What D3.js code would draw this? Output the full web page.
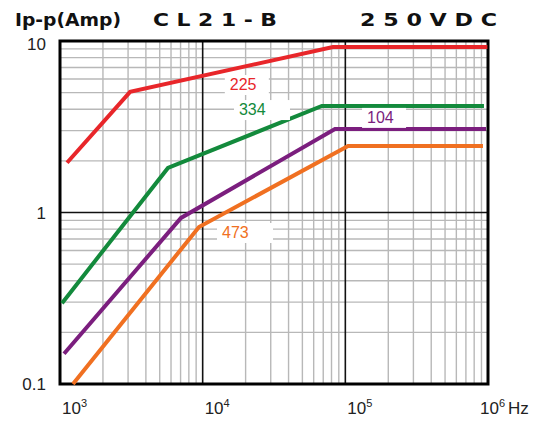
<!DOCTYPE html>
<html>
<head>
<meta charset="utf-8">
<script src="https://cdn.jsdelivr.net/npm/d3@7"></script>
<style>
  body { margin: 0; background: #fff; }
  svg { display: block; font-family: "Liberation Sans", Arial, sans-serif; }
</style>
</head>
<body>
<svg id="chart" width="550" height="421"></svg>
<script>
// curves: [frequency Hz, current A]
var c225 = [[1120, 1.95], [3100, 5.05], [81800, 9.23], [990000, 9.23]];
var c334 = [[1033, 0.296], [5710, 1.82], [68500, 4.18], [937000, 4.18]];
var c104 = [[1067, 0.150], [7050, 0.93], [84600, 3.07], [968000, 3.07]];
var c473 = [[1233, 0.100], [9420, 0.823], [104500, 2.44], [922000, 2.44]];

var seriesNames = ["225", "334", "104", "473"];
var seriesColors = ["#e8262a", "#138a3c", "#7b1e7e", "#f07021"];
// label anchor points in data units
var labelPos = [[15500, 5.18], [17970, 3.70], [142000, 3.33], [13660, 0.71]];

var xTicks = [1e3, 1e4, 1e5, 1e6];
var xExp = ["3", "4", "5", "6"];
var yTicks = [0.1, 1, 10];
var yTickLabels = ["0.1", "1", "10"];

var svg = d3.select("#chart");

var x = d3.scaleLog().domain([1e3, 1e6]).range([60, 488]);
var y = d3.scaleLog().domain([0.1, 10]).range([384, 41]);

// minor grid values
var xMinor = [], yMinor = [];
[1e3, 1e4, 1e5].forEach(function (d) {
  for (var k = 2; k <= 9; k++) xMinor.push(d * k);
});
[0.1, 1].forEach(function (d) {
  for (var k = 2; k <= 9; k++) yMinor.push(d * k);
});

var grid = svg.append("g");
grid.selectAll(".vx").data(xMinor).enter().append("line")
  .attr("x1", function (d) { return x(d) }).attr("x2", function (d) { return x(d) })
  .attr("y1", y(10)).attr("y2", y(0.1))
  .attr("stroke", "#b8b8b8").attr("stroke-width", 1.4);
grid.selectAll(".hy").data(yMinor).enter().append("line")
  .attr("y1", function (d) { return y(d) }).attr("y2", function (d) { return y(d) })
  .attr("x1", x(1e3)).attr("x2", x(1e6))
  .attr("stroke", "#b8b8b8").attr("stroke-width", 1.4);

// major lines
grid.selectAll(".mx").data([1e4, 1e5]).enter().append("line")
  .attr("x1", function (d) { return x(d) }).attr("x2", function (d) { return x(d) })
  .attr("y1", y(10)).attr("y2", y(0.1))
  .attr("stroke", "#111").attr("stroke-width", 1.6);
grid.append("line")
  .attr("x1", x(1e3)).attr("x2", x(1e6)).attr("y1", y(1)).attr("y2", y(1))
  .attr("stroke", "#111").attr("stroke-width", 1.6);

// frame
svg.append("rect")
  .attr("x", x(1e3)).attr("y", y(10))
  .attr("width", x(1e6) - x(1e3)).attr("height", y(0.1) - y(10))
  .attr("fill", "none").attr("stroke", "#000").attr("stroke-width", 3);

// curves
var line = d3.line().x(function (d) { return x(d[0]) }).y(function (d) { return y(d[1]) });
[c225, c334, c104, c473].forEach(function (s, i) {
  svg.append("path").datum(s).attr("d", line)
    .attr("fill", "none").attr("stroke", seriesColors[i])
    .attr("stroke-width", 4).attr("stroke-linejoin", "miter");
});

// labels with white boxes
seriesNames.forEach(function (n, i) {
  var px = x(labelPos[i][0]), py = y(labelPos[i][1]);
  svg.append("rect")
    .attr("x", px - 5).attr("y", py - 15)
    .attr("width", i == 2 ? 44 : (i == 0 ? 44 : 56)).attr("height", 20)
    .attr("fill", "#fff");
  svg.append("text")
    .attr("x", px).attr("y", py)
    .attr("fill", seriesColors[i])
    .style("font-size", "16px")
    .text(n);
});

// y tick labels
svg.selectAll(".yl").data(yTicks).enter().append("text")
  .attr("x", 46)
  .attr("y", function (d, i) { return y(d) + (i == 2 ? 9 : 6) })
  .attr("text-anchor", "end")
  .style("font-size", "17px")
  .attr("fill", "#222")
  .text(function (d, i) { return yTickLabels[i] });

// x tick labels
xTicks.forEach(function (d, i) {
  var t = svg.append("text")
    .attr("x", x(d) + (i == 3 ? -8 : 2)).attr("y", 414)
    .style("font-size", "17px").attr("fill", "#222");
  t.append("tspan").text("10");
  t.append("tspan").attr("dy", -7).style("font-size", "11px").text(xExp[i]);
  if (i == 3) t.append("tspan").attr("dy", 7).attr("dx", 3).text("Hz");
});

// titles
var titleFont = "'DejaVu Sans', sans-serif";
svg.append("text").attr("x", 15).attr("y", 26)
  .attr("textLength", 106).attr("lengthAdjust", "spacingAndGlyphs")
  .style("font-family", titleFont)
  .style("font-size", "17px").style("font-weight", "bold").attr("fill", "#111")
  .text("Ip-p(Amp)");
svg.append("text").attr("x", 153).attr("y", 26)
  .attr("textLength", 124).attr("lengthAdjust", "spacingAndGlyphs")
  .style("font-family", titleFont)
  .style("font-size", "18px").style("font-weight", "bold").attr("fill", "#111")
  .text("C L 2 1 - B");
svg.append("text").attr("x", 360).attr("y", 26)
  .attr("textLength", 137).attr("lengthAdjust", "spacingAndGlyphs")
  .style("font-family", titleFont)
  .style("font-size", "18px").style("font-weight", "bold").attr("fill", "#111")
  .text("2 5 0 V D C");
</script>
</body>
</html>
